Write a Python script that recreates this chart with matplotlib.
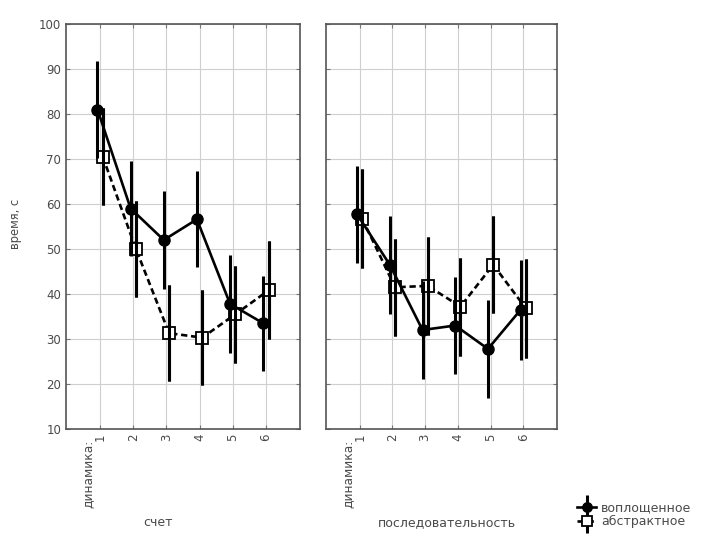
import matplotlib
matplotlib.use("Agg")
import matplotlib.pyplot as plt
import numpy as np
from matplotlib.transforms import blended_transform_factory
from matplotlib.legend_handler import HandlerErrorbar

plt.rcParams['font.family'] = ['DejaVu Sans']

levels = ["1", "2", "3", "4", "5", "6"]
factor_label = "динамика:"
panel_titles = ["счет", "последовательность"]
series_names = ["воплощенное", "абстрактное"]
ylabel = "время, с"

# panel 1: счет
count_emb = [81.0, 59.0, 52.0, 56.6, 37.8, 33.5]
count_emb_err = [10.7, 10.6, 10.8, 10.7, 10.8, 10.6]
count_abs = [70.5, 50.0, 31.3, 30.3, 35.5, 40.8]
count_abs_err = [10.8, 10.6, 10.6, 10.6, 10.8, 10.9]
# panel 2: последовательность
seq_emb = [57.7, 46.5, 32.0, 33.0, 27.8, 36.5]
seq_emb_err = [10.8, 10.9, 10.9, 10.8, 10.8, 11.1]
seq_abs = [56.7, 41.5, 41.8, 37.2, 46.5, 36.8]
seq_abs_err = [11.0, 10.8, 10.9, 10.9, 10.8, 11.0]

panels = [
    (count_emb, count_emb_err, count_abs, count_abs_err),
    (seq_emb, seq_emb_err, seq_abs, seq_abs_err),
]

fig = plt.figure(figsize=(7.03, 5.37), dpi=100)
W, H = 703, 537
axes_px = [(66, 300), (326, 557)]
top_px, bot_px = 24, 429
title_xfrac = [0.393, 0.524]

txt_col = "#4a4a4a"
x = np.arange(len(levels))
off = 0.08
handles = None
for i, (emb, emb_err, ab, ab_err) in enumerate(panels):
    l, r = axes_px[i]
    ax = fig.add_axes([l / W, 1 - bot_px / H, (r - l) / W, (bot_px - top_px) / H])
    h1 = ax.errorbar(x - off, emb, yerr=emb_err, color="black", lw=1.9,
                     marker="o", ms=8, mfc="black", mec="black",
                     elinewidth=2.2, capsize=0, zorder=4)
    h2 = ax.errorbar(x + off, ab, yerr=ab_err, color="black", lw=1.9,
                     ls=(0, (2.4, 1.4)), marker="s", ms=8, mfc="white",
                     mec="black", mew=1.3, elinewidth=2.2, capsize=0, zorder=3)
    # bars drawn over the hollow squares, as in the original
    ax.errorbar(x + off, ab, yerr=ab_err, fmt="none", ecolor="black",
                elinewidth=2.2, capsize=0, zorder=3.5)
    if handles is None:
        handles = [h1, h2]
    ax.set_xlim(-1.03, len(levels) - 1 + 1.03)
    ax.set_ylim(10, 100)
    ax.set_yticks(np.arange(10, 101, 10))
    ax.set_xticks(x)
    ax.set_xticklabels(levels, rotation=90, fontsize=8.5, color=txt_col)
    ax.grid(True, color="#cfcfcf", lw=0.8)
    ax.set_axisbelow(True)
    ax.tick_params(direction="in", length=3, width=0.8, color="#777777",
                   top=True, right=True, labelsize=8.5, labelcolor=txt_col)
    for s in ax.spines.values():
        s.set_color("#555555")
        s.set_linewidth(1.2)
    if i > 0:
        ax.tick_params(labelleft=False)
    trans = blended_transform_factory(ax.transData, ax.transAxes)
    ax.text(-0.36, -0.026, factor_label, rotation=90, ha="center", va="top",
            fontsize=8.8, color=txt_col, transform=trans)
    ax.text(title_xfrac[i], (1 - 523 / H), panel_titles[i],
            transform=blended_transform_factory(ax.transAxes, fig.transFigure),
            ha="center", va="center", fontsize=9, color=txt_col)

fig.text(16 / W, 1 - 224 / H, ylabel, rotation=90, ha="center", va="center",
         fontsize=8.3, color=txt_col)

leg = fig.legend(handles, series_names, loc="center left",
                 bbox_to_anchor=(571 / W, 1 - 515 / H), frameon=False,
                 fontsize=9, handlelength=1.5, handletextpad=0.4,
                 labelspacing=0.05, borderpad=0, markerscale=0.85,
                 handler_map={type(handles[0]): HandlerErrorbar(yerr_size=1.0)})
for t in leg.get_texts():
    t.set_color(txt_col)

fig.savefig("out.png", dpi=100, facecolor="white")
